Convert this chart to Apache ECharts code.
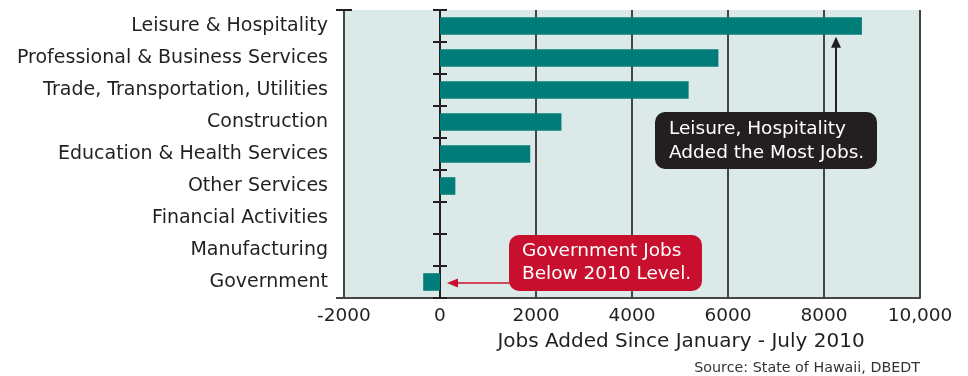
<!DOCTYPE html>
<html><head><meta charset="utf-8">
<script src="https://cdn.jsdelivr.net/npm/echarts@6/dist/echarts.min.js"></script>
<style>html,body{margin:0;padding:0;background:#fff}#c{width:968px;height:376px}</style>
</head><body><div id="c"></div>
<script>
const categories = ['Leisure & Hospitality','Professional & Business Services','Trade, Transportation, Utilities','Construction','Education & Health Services','Other Services','Financial Activities','Manufacturing','Government'];
const jobsAdded = [8790, 5800, 5180, 2530, 1880, 320, 0, 0, -350];
const xMin = -2000, xMax = 10000, xStep = 2000;
const axisTitle = 'Jobs Added Since January - July 2010';
const sourceText = 'Source: State of Hawaii, DBEDT';
const noteTop = ['Leisure, Hospitality', 'Added the Most Jobs.'];
const noteBottom = ['Government Jobs', 'Below 2010 Level.'];

const FONT = '"DejaVu Sans", "Liberation Sans", Arial, sans-serif';
const INK = '#231f20';
const chart = echarts.init(document.getElementById('c'), null, {renderer: 'canvas'});
const catAxisBase = {
  type: 'category', data: categories, inverse: true, boundaryGap: true
};
chart.setOption({
  animation: false,
  backgroundColor: '#fff',
  grid: {left: 344, right: 48, top: 10, bottom: 78, show: true, backgroundColor: '#dbeae9', borderWidth: 0},
  xAxis: {
    type: 'value', min: xMin, max: xMax, interval: xStep,
    axisLine: {show: true, lineStyle: {color: '#444', width: 2}},
    axisTick: {show: false},
    splitLine: {show: true, lineStyle: {color: '#444', width: 2}},
    axisLabel: {fontFamily: FONT, fontSize: 18.5, color: INK, margin: 9,
      formatter: v => v >= 10000 ? String(v).replace(/\B(?=(\d{3})+(?!\d))/g, ',') : String(v)}
  },
  yAxis: [
    Object.assign({}, catAxisBase, {
      position: 'left',
      axisLine: {show: false, onZero: false},
      axisTick: {show: false},
      splitLine: {show: false},
      axisLabel: {fontFamily: FONT, fontSize: 19, color: INK, margin: 16}
    }),
    Object.assign({}, catAxisBase, {
      position: 'left',
      axisLine: {show: true, onZero: true, onZeroAxisIndex: 0, lineStyle: {color: INK, width: 2}},
      axisTick: {show: true, length: 7, lineStyle: {color: INK, width: 2}},
      axisLabel: {show: false}, splitLine: {show: false}
    }),
    Object.assign({}, catAxisBase, {
      position: 'right',
      axisLine: {show: true, onZero: true, onZeroAxisIndex: 0, lineStyle: {color: INK, width: 2}},
      axisTick: {show: true, length: 7, lineStyle: {color: INK, width: 2}},
      axisLabel: {show: false}, splitLine: {show: false}
    })
  ],
  series: [{
    type: 'bar', yAxisIndex: 0, data: jobsAdded, barWidth: '55%',
    itemStyle: {color: '#007d78'}, z: 1
  }]
});

function px(v, idx) { return chart.convertToPixel({xAxisIndex: 0, yAxisIndex: 0}, [v, idx]); }
const gridRect = chart.getModel().getComponent('grid', 0).coordinateSystem.getRect();
const leftX = gridRect.x, topY = gridRect.y, botY = gridRect.y + gridRect.height;
const graphics = [];
graphics.push({type: 'line', shape: {x1: leftX - 8, y1: topY, x2: leftX + 8, y2: topY}, style: {stroke: INK, lineWidth: 2}, z: 50});
graphics.push({type: 'line', shape: {x1: leftX - 8, y1: botY, x2: leftX, y2: botY}, style: {stroke: '#444', lineWidth: 2}, z: 50});

const topBar = px(jobsAdded[0], 0);
const arrowX = px(8250, 0)[0];
const barH = (botY - topY) / categories.length * 0.55;
const tipY = topBar[1] + barH / 2 + 2;
const boxTop = 112;
graphics.push({type: 'line', shape: {x1: arrowX, y1: boxTop, x2: arrowX, y2: tipY + 9}, style: {stroke: INK, lineWidth: 2}, z: 60});
graphics.push({type: 'polygon', shape: {points: [[arrowX, tipY], [arrowX - 5, tipY + 11], [arrowX + 5, tipY + 11]]}, style: {fill: INK}, z: 60});
graphics.push({type: 'rect', shape: {x: 655, y: boxTop, width: 222, height: 57, r: 10}, style: {fill: INK}, z: 61});
graphics.push({type: 'text', x: 669, y: 129, style: {text: noteTop[0], fill: '#fff', font: '18.5px ' + FONT, textVerticalAlign: 'middle'}, z: 62});
graphics.push({type: 'text', x: 669, y: 153, style: {text: noteTop[1], fill: '#fff', font: '18.5px ' + FONT, textVerticalAlign: 'middle'}, z: 62});

const govBar = px(0, categories.length - 1);
const redY = govBar[1] + 1;
const redTip = govBar[0] + 7;
const redCol = '#c8102e';
graphics.push({type: 'line', shape: {x1: 512, y1: redY, x2: redTip + 8, y2: redY}, style: {stroke: redCol, lineWidth: 1.5}, z: 60});
graphics.push({type: 'polygon', shape: {points: [[redTip, redY], [redTip + 11, redY - 4.5], [redTip + 11, redY + 4.5]]}, style: {fill: redCol}, z: 60});
graphics.push({type: 'rect', shape: {x: 509, y: 235, width: 193, height: 56, r: 10}, style: {fill: redCol}, z: 61});
graphics.push({type: 'text', x: 522, y: 251, style: {text: noteBottom[0], fill: '#fff', font: '18.5px ' + FONT, textVerticalAlign: 'middle'}, z: 62});
graphics.push({type: 'text', x: 522, y: 274, style: {text: noteBottom[1], fill: '#fff', font: '18.5px ' + FONT, textVerticalAlign: 'middle'}, z: 62});

graphics.push({type: 'text', x: 681, y: 342, style: {text: axisTitle, fill: INK, font: '20px ' + FONT, textAlign: 'center', textVerticalAlign: 'middle'}, z: 50});
graphics.push({type: 'text', x: 920, y: 368, style: {text: sourceText, fill: '#333', font: '14.3px ' + FONT, textAlign: 'right', textVerticalAlign: 'middle'}, z: 50});
chart.setOption({graphic: graphics});
</script>
</body></html>
